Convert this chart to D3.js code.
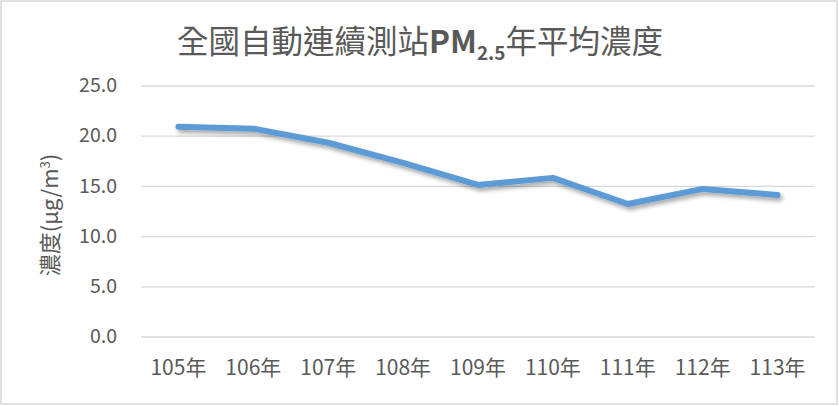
<!DOCTYPE html>
<html>
<head>
<meta charset="utf-8">
<script src="https://cdn.jsdelivr.net/npm/d3@7"></script>
<style>
  body { margin: 0; background: #fff; }
  text { font-family: "Noto Sans CJK TC", "Noto Sans", sans-serif; fill: #595959; }
</style>
</head>
<body>
<div id="visualization"></div>
<script>
let w = 839;
let h = 406;

// data
let years = ["105年", "106年", "107年", "108年", "109年", "110年", "111年", "112年", "113年"];
let values = [20.9, 20.7, 19.3, 17.3, 15.1, 15.8, 13.2, 14.7, 14.1];
let yTicks = [0, 5, 10, 15, 20, 25];

let plot = {left: 141, right: 815, top: 85.5, bottom: 336.5};

let viz = d3.select("#visualization")
  .append("svg")
  .attr("width", w)
  .attr("height", h);

// chart border
viz.append("rect")
  .attr("x", 1).attr("y", 1)
  .attr("width", w - 3).attr("height", h - 3)
  .attr("fill", "#fff")
  .attr("stroke", "#d9d9d9")
  .attr("stroke-width", 1.5);

// shadow under the line
let defs = viz.append("defs");
let f = defs.append("filter").attr("id", "shadow")
  .attr("x", "-5%").attr("y", "-20%").attr("width", "110%").attr("height", "150%");
f.append("feDropShadow")
  .attr("dx", 2).attr("dy", 3)
  .attr("stdDeviation", 2)
  .attr("flood-color", "#000")
  .attr("flood-opacity", 0.35);

// scales
let xScale = d3.scaleBand().domain(years).range([plot.left, plot.right]);
let yScale = d3.scaleLinear().domain([0, 25]).range([plot.bottom, plot.top]);

// y axis: gridlines + labels
let yAxis = d3.axisLeft(yScale)
  .tickValues(yTicks)
  .tickSize(-(plot.right - plot.left))
  .tickPadding(24)
  .tickFormat(d3.format(".1f"));

let yAxisGroup = viz.append("g")
  .attr("transform", "translate(" + plot.left + ",0)")
  .call(yAxis);
yAxisGroup.select(".domain").remove();
yAxisGroup.selectAll(".tick line").attr("stroke", "#d9d9d9").attr("stroke-width", 1.3);
yAxisGroup.selectAll(".tick text")
  .attr("fill", "#595959")
  .style("font-size", "19.5px");

// x axis labels
let xAxis = d3.axisBottom(xScale).tickSize(0).tickPadding(24);
let xAxisGroup = viz.append("g")
  .attr("transform", "translate(0," + plot.bottom + ")")
  .call(xAxis);
xAxisGroup.select(".domain").remove();
xAxisGroup.selectAll(".tick text")
  .attr("fill", "#595959")
  .style("font-size", "21px");

// the line
let line = d3.line()
  .x((d, i) => xScale(years[i]) + xScale.bandwidth() / 2)
  .y(d => yScale(d));

viz.append("path")
  .datum(values)
  .attr("d", line)
  .attr("fill", "none")
  .attr("stroke", "#5b9bd5")
  .attr("stroke-width", 6)
  .attr("stroke-linecap", "round")
  .attr("stroke-linejoin", "round")
  .attr("filter", "url(#shadow)");

// title
let title = viz.append("text")
  .attr("x", 420)
  .attr("y", 53)
  .attr("text-anchor", "middle")
  .style("font-size", "31.5px");
title.append("tspan").text("全國自動連續測站");
title.append("tspan").text("PM").style("font-weight", "bold");
title.append("tspan").text("2.5").style("font-weight", "bold").style("font-size", "19px").attr("dy", 7);
title.append("tspan").text("年平均濃度").attr("dy", -7);

// y axis title
let yTitle = viz.append("text")
  .attr("transform", "translate(58,215) rotate(-90)")
  .attr("text-anchor", "middle")
  .style("font-size", "22px");
yTitle.append("tspan").text("濃度(μg/m");
yTitle.append("tspan").text("3").style("font-size", "13px").attr("dy", -8);
yTitle.append("tspan").text(")").attr("dy", 8);
</script>
</body>
</html>
